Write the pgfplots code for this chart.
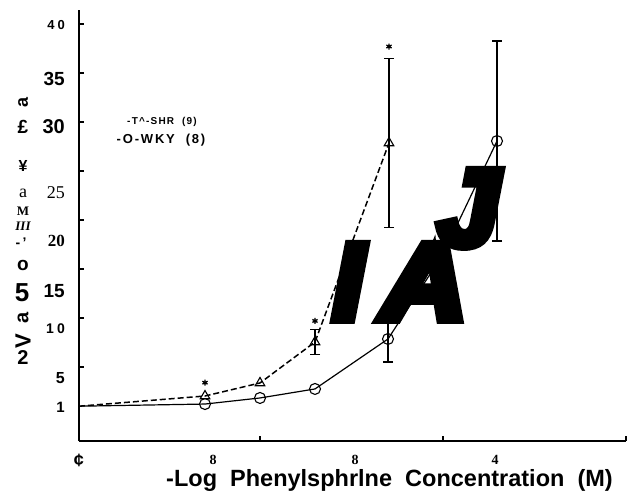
\documentclass[border=0pt]{standalone}
\usepackage{pgfplots}
\pgfplotsset{compat=1.18}
\usepackage{fontspec}
\setmainfont{Liberation Sans}
\newfontfamily\serif{Liberation Serif}
\newfontfamily\bigf{Liberation Sans}[BoldItalicFeatures={FakeBold=9}]
\newfontfamily\spca{Liberation Sans}[LetterSpace=12]
\newfontfamily\spcb{Liberation Sans}[LetterSpace=14]
\newcommand\fs[1]{\fontsize{#1bp}{#1bp}\selectfont}

\begin{document}
\begin{tikzpicture}
\begin{axis}[
  scale only axis, width=547bp, height=431bp,
  xmin=79, xmax=626, ymin=-2.551, ymax=41.429,
  axis x line*=bottom, axis y line*=left,
  axis line style={line width=2.2bp},
  tick align=inside, major tick length=5bp,
  tick style={line width=1.2bp, black},
  xtick={260,443,626}, xticklabels={,,},
  ytick={5,10,...,40}, yticklabels={,,,,,,,},
  extra x ticks={79,213,355,495},
  extra x tick labels={{\bfseries\fs{18}¢},{\serif\bfseries\fs{14}8},{\serif\bfseries\fs{14}8},{\serif\bfseries\fs{14}4}},
  extra x tick style={major tick length=0pt, tick label style={anchor=center, yshift=-19bp, inner sep=0pt}},
  extra y ticks={0.9,3.9,8.9,12.8,17.9,22.8,29.5,34.4,39.9},
  extra y tick labels={{\bfseries\fs{15}1},{\bfseries\fs{16}5},{\bfseries\fs{14}1\kern3bp 0},{\bfseries\fs{19}15},{\serif\bfseries\fs{17}20},{\serif\fs{18}25},{\bfseries\fs{20}30},{\bfseries\fs{19}35},{\bfseries\fs{13}4\kern3bp 0}},
  extra y tick style={major tick length=0pt, tick label style={anchor=east, xshift=-14bp, inner sep=0pt}},
  clip=false,
]
% error bars
\addplot[draw=none, mark=none, error bars/.cd, y dir=both, y explicit,
  error bar style={line width=1.3bp, black},
  error mark options={rotate=90, mark size=5bp, line width=1.3bp, black}]
  coordinates {(315,7.55) +- (0,1.3) (389,27.86) +- (0,8.6)};
\addplot[draw=none, mark=none, error bars/.cd, y dir=both, y explicit,
  error bar style={line width=1.3bp, black},
  error mark options={rotate=90, mark size=5bp, line width=1.3bp, black}]
  coordinates {(388,7.86) +- (0,2.35) (443,16.5) += (0,0) -= (0,6.3) (497,28.06) +- (0,10.2)};
% SHR
\addplot[black, line width=1.5bp, dash pattern=on 6bp off 3bp,
  mark=triangle, mark indices={2,3,4,5}, mark size=5.5bp,
  mark options={solid, fill=white, line width=1.1bp}]
  coordinates {(79,1) (205,2.04) (260,3.37) (315,7.55) (389,27.86)};
% WKY
\addplot[black, line width=1.2bp,
  mark=o, mark indices={2,3,4,5,7}, mark size=5.5bp,
  mark options={solid, fill=white, line width=1.1bp}]
  coordinates {(79,1) (205,1.22) (260,1.84) (315,2.76) (388,7.86) (443,16.5) (497,28.06)};
% significance
\addplot[only marks, mark=asterisk, mark size=3bp, line width=1.3bp, black]
  coordinates {(205,3.4) (315,9.7) (389,37.7)};
\coordinate (O) at (axis cs:79,-2.551);
\end{axis}
\coordinate (TL) at ([xshift=-79bp,yshift=441bp]O);
\begin{scope}[shift={(TL)}, x=1bp, y=-1bp]
  % garbled y label
  \node[rotate=90] at (23,102) {\bfseries\fs{18}a};
  \node at (23,127) {\bfseries\fs{19}£};
  \node at (23,166) {\bfseries\fs{16}¥};
  \node at (23,193) {\serif\fs{18}a};
  \node at (23,211) {\serif\bfseries\fs{13}M};
  \node at (23,226) {\serif\bfseries\itshape\fs{13}III};
  \node at (21,243) {\bfseries\fs{14}-\,'};
  \node at (23,265) {\bfseries\fs{19}o};
  \node at (22,293) {\bfseries\fs{26}5};
  \node[rotate=90] at (23,318) {\bfseries\fs{20}a};
  \node[rotate=90] at (23,341) {\bfseries\fs{22}V};
  \node at (23,358) {\bfseries\fs{20}2};
  % legend text
  \node at (162,122) {\spca\bfseries\fs{10}-T\textasciicircum-SHR\ \ (9)};
  \node at (161,140) {\spcb\bfseries\fs{13}-O-WKY\ \ (8)};
  % x label
  \node[anchor=base] at (389.5,487) {\bfseries\fs{23.5}-Log\ \ Phenylsphrlne\ \ Concentration\ \ (M)};
  % overlay letters
  \node[anchor=base west, inner sep=0pt] at (333,319) {\bigf\bfseries\itshape\fs{108}I};
  \node[anchor=base west, inner sep=0pt, xscale=1.08] at (382,319) {\bigf\bfseries\itshape\fs{108}A};
  \node[anchor=base west, inner sep=0pt] at (438,245) {\bigf\bfseries\itshape\fs{108}J};
\end{scope}
\pgfresetboundingbox
\path (TL) rectangle ([xshift=634bp,yshift=-498bp]TL);
\end{tikzpicture}
\end{document}
